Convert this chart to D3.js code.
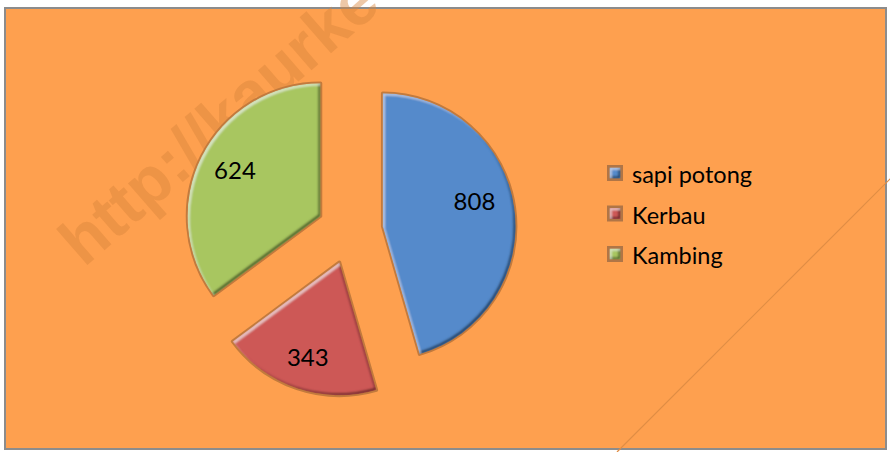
<!DOCTYPE html>
<html>
<head>
<meta charset="utf-8">
<script src="https://cdn.jsdelivr.net/npm/d3@7"></script>
<style>
  html, body { margin: 0; padding: 0; background: #fff; }
  svg { display: block; }
</style>
</head>
<body>
<div id="chart"></div>
<script>
const W = 890, H = 452;
const CENTER = { x: 350, y: 231 };
const RADIUS = 133;
const EXPLODE = 33;

const categories = ["sapi potong", "Kerbau", "Kambing"];
const values = [808, 343, 624];
const colors = ["#558acb", "#cd5856", "#a8c661"];

const svg = d3.select("#chart").append("svg")
  .attr("width", W)
  .attr("height", H);

// bevel filter: dark lower-right rim, light upper-left rim
const defs = svg.append("defs");
const f = defs.append("filter").attr("id", "bevel")
  .attr("x", "-5%").attr("y", "-5%").attr("width", "110%").attr("height", "110%");
f.append("feOffset").attr("in", "SourceAlpha").attr("dx", -2.5).attr("dy", -2.5).attr("result", "offUL");
f.append("feComposite").attr("in", "SourceAlpha").attr("in2", "offUL").attr("operator", "out").attr("result", "edgeBR");
f.append("feGaussianBlur").attr("in", "edgeBR").attr("stdDeviation", 0.9).attr("result", "edgeBRb");
f.append("feFlood").attr("flood-color", "#000").attr("flood-opacity", 0.85);
f.append("feComposite").attr("in2", "edgeBRb").attr("operator", "in").attr("result", "shadow");
f.append("feOffset").attr("in", "SourceAlpha").attr("dx", 2).attr("dy", 2).attr("result", "offDR");
f.append("feComposite").attr("in", "SourceAlpha").attr("in2", "offDR").attr("operator", "out").attr("result", "edgeUL");
f.append("feGaussianBlur").attr("in", "edgeUL").attr("stdDeviation", 0.9).attr("result", "edgeULb");
f.append("feFlood").attr("flood-color", "#fff").attr("flood-opacity", 0.55);
f.append("feComposite").attr("in2", "edgeULb").attr("operator", "in").attr("result", "light");
const merge = f.append("feMerge").attr("result", "m");
merge.append("feMergeNode").attr("in", "SourceGraphic");
merge.append("feMergeNode").attr("in", "shadow");
merge.append("feMergeNode").attr("in", "light");
f.append("feComposite").attr("in", "m").attr("in2", "SourceAlpha").attr("operator", "in");

// chart area
svg.append("rect")
  .attr("x", 5).attr("y", 8)
  .attr("width", 881).attr("height", 441)
  .attr("fill", "#fea04f")
  .attr("stroke", "#8c8c8c")
  .attr("stroke-width", 2);

// watermark
svg.append("line")
  .attr("x1", 895).attr("y1", 174)
  .attr("x2", 617).attr("y2", 452)
  .attr("stroke", "#e08d45")
  .attr("stroke-width", 1.2);

svg.append("text")
  .attr("transform", "translate(84,268) rotate(-41)")
  .attr("font-family", "Liberation Sans, Arial, sans-serif")
  .attr("font-weight", "bold")
  .attr("font-size", 66)
  .attr("fill", "#d9843c")
  .attr("fill-opacity", 0.45)
  .text("http://kaurke");

// pie
const pie = d3.pie().sort(null).value(d => d)(values);
const arc = d3.arc().innerRadius(0).outerRadius(RADIUS);
const labelArc = d3.arc().innerRadius(RADIUS * 0.72).outerRadius(RADIUS * 0.72);
// small label nudges so the numbers sit where the original put them
const LABEL_NUDGE = [[-3, -12], [-1, 4], [0, -3]];

const slices = svg.append("g")
  .attr("transform", `translate(${CENTER.x},${CENTER.y})`)
  .selectAll("g")
  .data(pie)
  .join("g")
  .attr("transform", d => {
    const a = (d.startAngle + d.endAngle) / 2;
    return `translate(${EXPLODE * Math.sin(a)},${-EXPLODE * Math.cos(a)})`;
  });

slices.append("path")
  .attr("d", arc)
  .attr("fill", "none")
  .attr("stroke", "#c27a3d")
  .attr("stroke-width", 3.5)
  .attr("stroke-linejoin", "round");

slices.append("path")
  .attr("d", arc)
  .attr("fill", (d, i) => colors[i])
  .attr("filter", "url(#bevel)");

slices.append("text")
  .attr("transform", (d, i) => {
    const [x, y] = labelArc.centroid(d);
    return `translate(${x + LABEL_NUDGE[i][0]},${y + LABEL_NUDGE[i][1]})`;
  })
  .attr("text-anchor", "middle")
  .attr("dy", "0.36em")
  .attr("font-family", "Lato, sans-serif")
  .attr("font-size", 24)
  .attr("fill", "#000")
  .text(d => d.value);

// legend
const legend = svg.append("g").attr("transform", "translate(607,165)");
const items = legend.selectAll("g")
  .data(categories)
  .join("g")
  .attr("transform", (d, i) => `translate(0,${i * 40.5})`);

items.append("rect")
  .attr("width", 16).attr("height", 16)
  .attr("fill", "#b07546");
items.append("rect")
  .attr("x", 2.5).attr("y", 2.5)
  .attr("width", 11).attr("height", 11)
  .attr("fill", (d, i) => colors[i])
  .attr("filter", "url(#bevel)");

items.append("text")
  .attr("x", 25)
  .attr("y", 18)
  .attr("font-family", "Lato, sans-serif")
  .attr("font-size", 23.5)
  .attr("fill", "#000")
  .text(d => d);
</script>
</body>
</html>
